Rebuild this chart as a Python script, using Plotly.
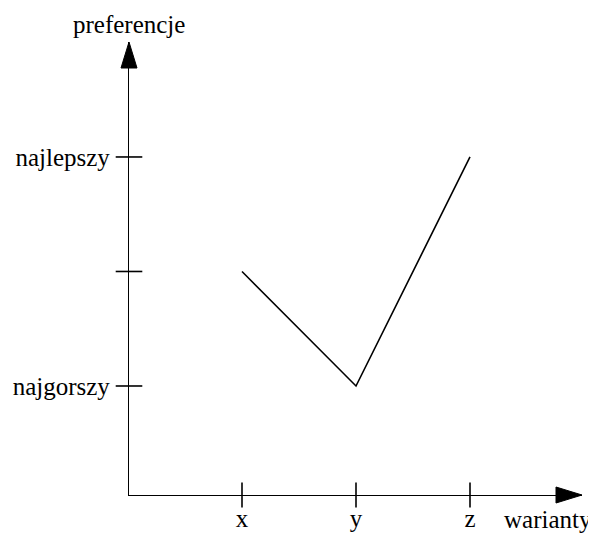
import plotly.graph_objects as go

# Data
warianty = ["x", "y", "z"]
x_pos = [1, 2, 3]
preferencje = [2, 1, 3]
y_tick_vals = [1, 2, 3]
y_tick_text = ["najgorszy", "", "najlepszy"]

FONT = "Liberation Serif"
FS = 25
X_RANGE = [1 - 113 / 114, 3 + 112 / 114]
Y_RANGE = [0.048, 4.004]

fig = go.Figure()

# Preference line
fig.add_trace(go.Scatter(
    x=x_pos, y=preferencje, mode="lines",
    line=dict(color="black", width=1.6),
    hoverinfo="skip", showlegend=False,
))

# Crossing tick marks on x axis
fig.add_trace(go.Scatter(
    x=x_pos, y=[Y_RANGE[0]] * len(x_pos), mode="markers",
    marker=dict(symbol="line-ns", size=18, line=dict(color="black", width=1.6)),
    cliponaxis=False, hoverinfo="skip", showlegend=False,
))
# Crossing tick marks on y axis
fig.add_trace(go.Scatter(
    x=[X_RANGE[0]] * len(y_tick_vals), y=y_tick_vals, mode="markers",
    marker=dict(symbol="line-ew", size=19, line=dict(color="black", width=1.6)),
    cliponaxis=False, hoverinfo="skip", showlegend=False,
))

fig.update_layout(
    width=588, height=526,
    margin=dict(l=121, r=14, t=34, b=39, autoexpand=False),
    paper_bgcolor="white", plot_bgcolor="white",
    font=dict(family=FONT, size=FS, color="black"),
    xaxis=dict(
        range=X_RANGE, tickvals=x_pos, ticktext=warianty,
        showline=True, linecolor="black", linewidth=1.3, automargin=False,
        showgrid=False, zeroline=False, ticks="", ticklabelstandoff=1,
        fixedrange=True,
    ),
    yaxis=dict(
        range=Y_RANGE, tickvals=y_tick_vals, ticktext=y_tick_text,
        showline=True, linecolor="black", linewidth=1.3, automargin=False,
        showgrid=False, zeroline=False, ticks="", ticklabelstandoff=13,
        fixedrange=True,
    ),
    annotations=[
        dict(text="preferencje", xref="paper", yref="paper", x=0, y=1,
             xanchor="center", yanchor="bottom", yshift=2, showarrow=False,
             font=dict(family=FONT, size=FS)),
        dict(text="warianty", xref="paper", yref="paper", x=1, y=0,
             xanchor="right", yanchor="top", xshift=12, yshift=-9, showarrow=False,
             font=dict(family=FONT, size=FS)),
    ],
    shapes=[
        # arrow head on y axis
        dict(type="path", xref="paper", yref="paper", xsizemode="pixel", ysizemode="pixel",
             xanchor=0, yanchor=1, path="M -8,-26 L 8,-26 L 0,0 Z",
             fillcolor="black", line=dict(color="black", width=1)),
        # arrow head on x axis
        dict(type="path", xref="paper", yref="paper", xsizemode="pixel", ysizemode="pixel",
             xanchor=1, yanchor=0, path="M -26,-8 L -26,8 L 0,0 Z",
             fillcolor="black", line=dict(color="black", width=1)),
    ],
)

fig.write_html("out.html")
